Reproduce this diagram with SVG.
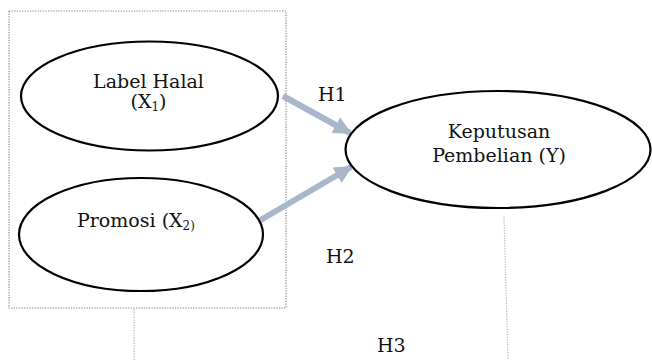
<svg xmlns="http://www.w3.org/2000/svg" width="652" height="360" viewBox="0 0 652 360">
<defs>
<style>
.node ellipse{fill:#fff;stroke:#000;stroke-width:2.2}
text{font-family:"DejaVu Serif","Liberation Serif",serif;font-size:19px;fill:#111}
.c{text-anchor:middle}
.arr{stroke:#a9b5c9;stroke-width:6;fill:none}
.dot{fill:none;stroke:#8a8a8a;stroke-width:1.2;stroke-dasharray:1.3 1.3}
.vline{fill:none;stroke:#b8b8b8;stroke-width:1.2;stroke-dasharray:1.3 1.3}
</style>
<marker id="ah" viewBox="0 0 10 10" refX="9" refY="5" markerWidth="3" markerHeight="3" markerUnits="strokeWidth" orient="auto">
<path d="M0,0 L10,5 L0,10 z" fill="#a9b5c9"/>
</marker>
</defs>
<rect width="652" height="360" fill="#fff"/>
<g id="group-box">
<rect class="dot" x="9" y="11" width="277" height="297"/>
</g>
<g id="connectors">
<line class="arr" x1="283" y1="96" x2="350" y2="133" marker-end="url(#ah)"/>
<line class="arr" x1="259" y1="221" x2="351" y2="167" marker-end="url(#ah)"/>
<line class="vline" x1="134" y1="309" x2="134" y2="360"/>
<line class="vline" x1="504" y1="217" x2="508" y2="360"/>
</g>
<g id="node-x1" class="node">
<ellipse cx="149.5" cy="96" rx="128.5" ry="54.5"/>
<text class="c" x="148.5" y="88">Label Halal</text>
<text class="c" x="148.5" y="108">(X<tspan font-size="12" dy="3">1</tspan><tspan dy="-3">)</tspan></text>
</g>
<g id="node-x2" class="node">
<ellipse cx="141" cy="234.5" rx="122" ry="56.5"/>
<text x="77" y="227">Promosi (X<tspan font-size="12" dy="3">2)</tspan></text>
</g>
<g id="node-y" class="node">
<ellipse cx="498" cy="149.5" rx="152.5" ry="58.5"/>
<text class="c" x="499" y="138">Keputusan</text>
<text class="c" x="499" y="162">Pembelian (Y)</text>
</g>
<g id="labels">
<text x="318" y="101">H1</text>
<text x="326" y="263">H2</text>
<text x="377" y="352">H3</text>
</g>
</svg>
